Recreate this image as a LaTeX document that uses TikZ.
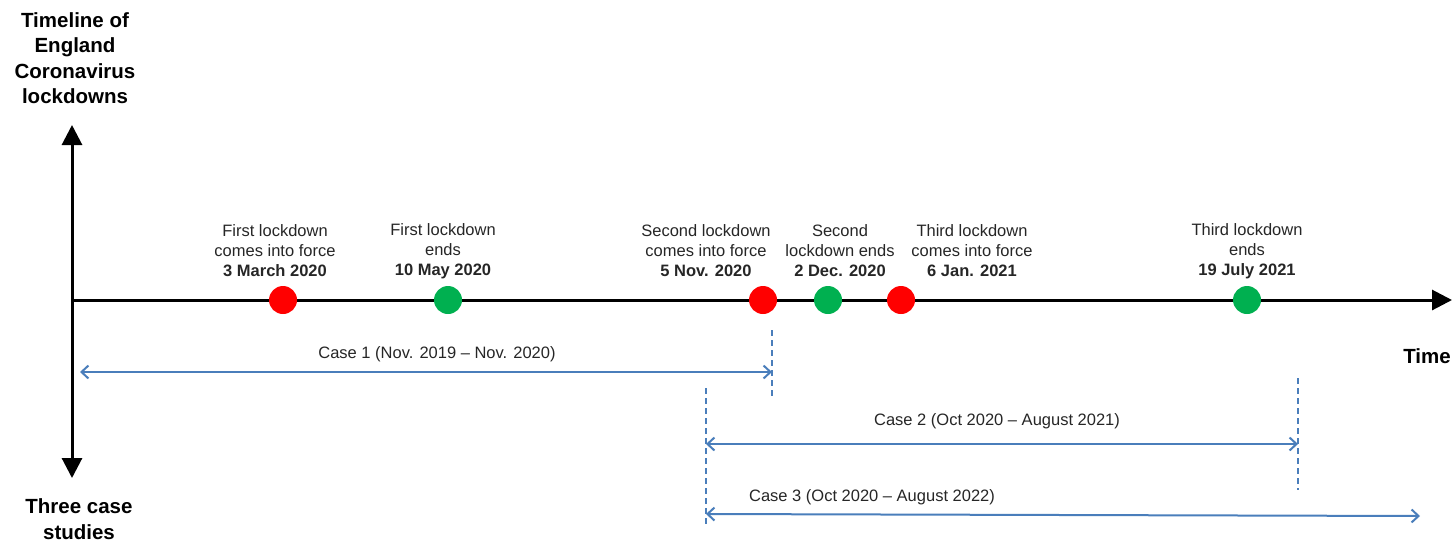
\documentclass[tikz,border=0pt]{standalone}
\usepackage{fontspec}
\setmainfont{Liberation Sans}
\usetikzlibrary{arrows.meta}
\definecolor{casecol}{HTML}{4A7EBB}
\definecolor{redd}{HTML}{FF0000}
\definecolor{greend}{HTML}{00B050}
\tikzset{
  axis/.style={line width=3pt, black},
  caseline/.style={line width=2pt, casecol, {Straight Barb[length=7pt,width=13pt,line width=2pt]}-{Straight Barb[length=7pt,width=13pt,line width=2pt]}},
  guide/.style={line width=1.3pt, casecol, dash pattern=on 6pt off 4pt},
  dotr/.style={circle, fill=redd, minimum size=28pt, inner sep=0pt},
  dotg/.style={circle, fill=greend, minimum size=28pt, inner sep=0pt},
  evlabel/.style={align=center, font=\fontsize{16.5}{20}\selectfont, text=black!85, inner sep=0pt},
  heading/.style={align=center, font=\fontsize{20.5}{25.5}\selectfont\bfseries, inner sep=0pt},
  caselabel/.style={font=\fontsize{16.5}{20}\selectfont, text=black!85, inner sep=0pt},
}
\begin{document}
\begin{tikzpicture}[x=1pt,y=-1pt]
\useasboundingbox (0,0) rectangle (1454,542);
% axes
\coordinate (vtop) at (72,125);
\coordinate (vbot) at (72,478);
\coordinate (orig) at (72,300);
\coordinate (hend) at (1452,300);
\draw[axis, {Triangle[length=20pt,width=20pt]}-{Triangle[length=20pt,width=20pt]}] (vtop) -- (vbot);
\draw[axis, -{Triangle[length=20pt,width=20pt]}] (orig) -- (hend);
% headings
\node[heading] (title) at (75,58) {Timeline of\\England\\Coronavirus\\lockdowns};
\node[heading] (cases) at (79,519) {Three case\\studies};
\node[heading] (time) at (1427,356) {Time};
% events
\node[dotr] (d1) at (283,300) {};
\node[dotg] (d2) at (448,300) {};
\node[dotr] (d3) at (763,300) {};
\node[dotg] (d4) at (828,300) {};
\node[dotr] (d5) at (901,300) {};
\node[dotg] (d6) at (1247,300) {};
\node[evlabel] (t1) at (275,251) {First lockdown\\comes into force\\\textbf{3 March 2020}};
\node[evlabel] (t2) at (443,251) {First lockdown\\ends\\\textbf{10 May 2020}};
\node[evlabel] (t3) at (706,251) {Second lockdown\\comes into force\\\textbf{5 Nov. 2020}};
\node[evlabel] (t4) at (840,251) {Second\\lockdown ends\\\textbf{2 Dec. 2020}};
\node[evlabel] (t5) at (972,251) {Third lockdown\\comes into force\\\textbf{6 Jan. 2021}};
\node[evlabel] (t6) at (1247,251) {Third lockdown\\ends\\\textbf{19 July 2021}};
% guides
\coordinate (g1a) at (772,330); \coordinate (g1b) at (772,396);
\coordinate (g2a) at (706,388); \coordinate (g2b) at (706,527);
\coordinate (g3a) at (1298,378); \coordinate (g3b) at (1298,490);
\draw[guide] (g1a) -- (g1b);
\draw[guide] (g2a) -- (g2b);
\draw[guide] (g3a) -- (g3b);
% cases
\coordinate (c1a) at (80,372); \coordinate (c1b) at (772,372);
\coordinate (c2a) at (706,444); \coordinate (c2b) at (1298,444);
\coordinate (c3a) at (706,514); \coordinate (c3b) at (1420,516);
\draw[caseline] (c1a) -- (c1b);
\draw[caseline] (c2a) -- (c2b);
\draw[caseline] (c3a) -- (c3b);
\node[caselabel] (l1) at (437,354) {Case 1 (Nov. 2019 – Nov. 2020)};
\node[caselabel] (l2) at (997,421) {Case 2 (Oct 2020 – August 2021)};
\node[caselabel] (l3) at (872,497) {Case 3 (Oct 2020 – August 2022)};
\end{tikzpicture}
\end{document}
